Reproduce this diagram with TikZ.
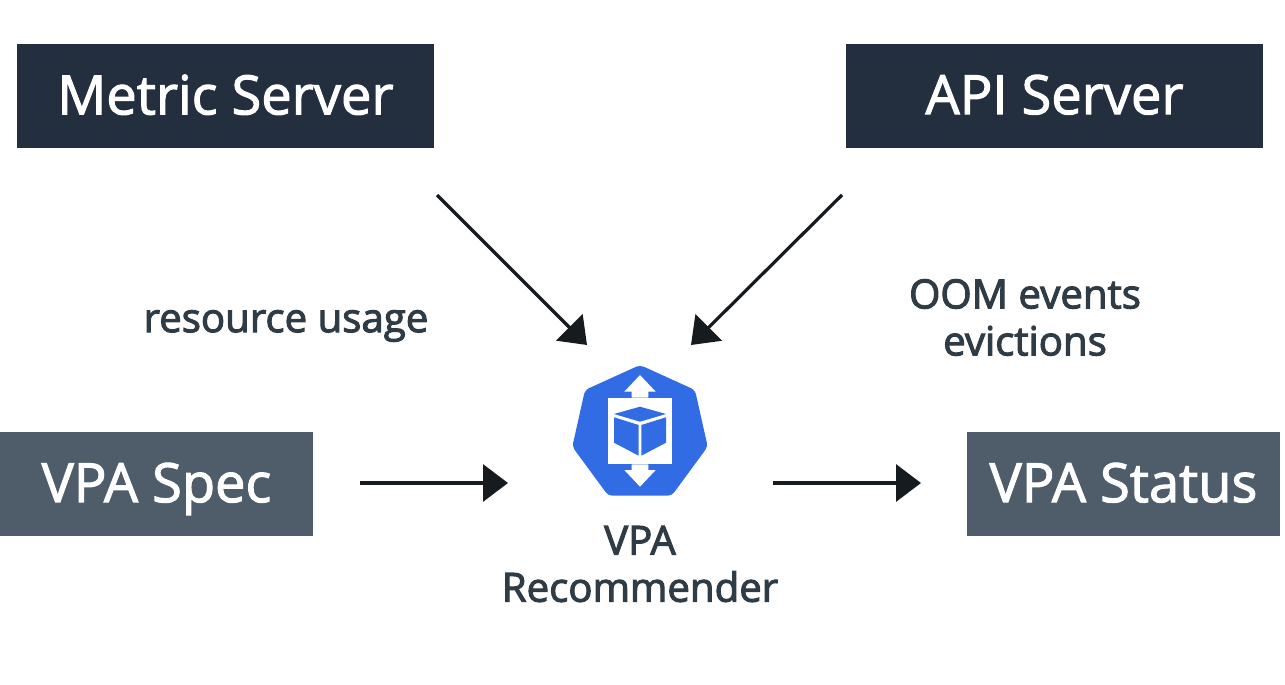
\documentclass[tikz,border=0pt]{standalone}
\usepackage{fontspec}
\setmainfont{Open Sans}
\newfontfamily\boxfont[RawFeature={embolden=2}]{Open Sans}
\newfontfamily\labelfont[RawFeature={embolden=2.6}]{Open Sans}
\usetikzlibrary{arrows.meta,positioning}
\definecolor{boxdark}{RGB}{35,47,62}
\definecolor{boxgray}{RGB}{79,93,107}
\definecolor{labeltext}{RGB}{47,59,69}
\definecolor{arrowblack}{RGB}{22,27,31}
\definecolor{k8sblue}{RGB}{50,108,229}
\tikzset{
  darkbox/.style={fill=boxdark, text=white, minimum width=417pt, minimum height=104pt, text depth=3pt, font=\boxfont\fontsize{54.2}{60}\selectfont},
  graybox/.style={fill=boxgray, text=white, minimum width=313pt, minimum height=104pt, text depth=3pt, font=\boxfont\fontsize{54.2}{60}\selectfont},
  flowlabel/.style={text=labeltext, align=center, font=\labelfont\fontsize{40.2}{47}\selectfont},
  flow/.style={line width=3.2pt, draw=arrowblack, -{Triangle[length=25pt,width=37pt]}}
}
\begin{document}
\begin{tikzpicture}[x=1pt,y=-1pt]
\useasboundingbox (0,0) rectangle (1285,685);
% Source boxes
\node[darkbox] (metric) at (225.5,96) {Metric Server};
\node[darkbox] (api) at (1054.5,96) {API Server};
\node[graybox] (spec) at (156.5,484) {VPA Spec};
\node[graybox] (status) at (1123.5,484) {VPA Status};
% Labels
\node[flowlabel] (usage) at (286,326) {resource usage};
\node[flowlabel] (oom) at (1025,317.5) {OOM events\\evictions};
\node[flowlabel] (recommender) at (640,564) {VPA\\Recommender};
% Icon: heptagon
\fill[k8sblue, rounded corners=4pt] (640,365) -- (695,390) -- (707.7,446.7) -- (671.7,495.7)
  -- (608.3,495.7) -- (572.3,446.7) -- (585,390) -- cycle;
% Icon: arrows and panel
\fill[white] (608.3,397.7) rectangle (671.7,464.3);
\fill[white] (640,375) -- (655.7,391.7) -- (648.3,391.7) -- (648.3,397.7) -- (631.7,397.7)
  -- (631.7,391.7) -- (624.3,391.7) -- cycle;
\fill[white] (640,486.7) -- (655.7,470) -- (648.3,470) -- (648.3,464.3) -- (631.7,464.3)
  -- (631.7,470) -- (624.3,470) -- cycle;
% Icon: cube
\fill[k8sblue] (640,406.7) -- (666,414) -- (640,421.7) -- (614,414) -- cycle;
\fill[k8sblue] (614,417.3) -- (638.7,425) -- (638.7,455.7) -- (614,442.7) -- cycle;
\fill[k8sblue] (666,417.3) -- (641.3,425) -- (641.3,455.7) -- (666,442.7) -- cycle;
% Arrow ends
\coordinate (metricout) at (437,195);
\coordinate (metricin) at (587,345);
\coordinate (apiout) at (842,195);
\coordinate (apiin) at (691,345);
\coordinate (specout) at (360,483);
\coordinate (specin) at (508,483);
\coordinate (statusout) at (773,483);
\coordinate (statusin) at (921,483);
% Arrows
\draw[flow] (metricout) -- (metricin);
\draw[flow] (apiout) -- (apiin);
\draw[flow] (specout) -- (specin);
\draw[flow] (statusout) -- (statusin);
\end{tikzpicture}
\end{document}
